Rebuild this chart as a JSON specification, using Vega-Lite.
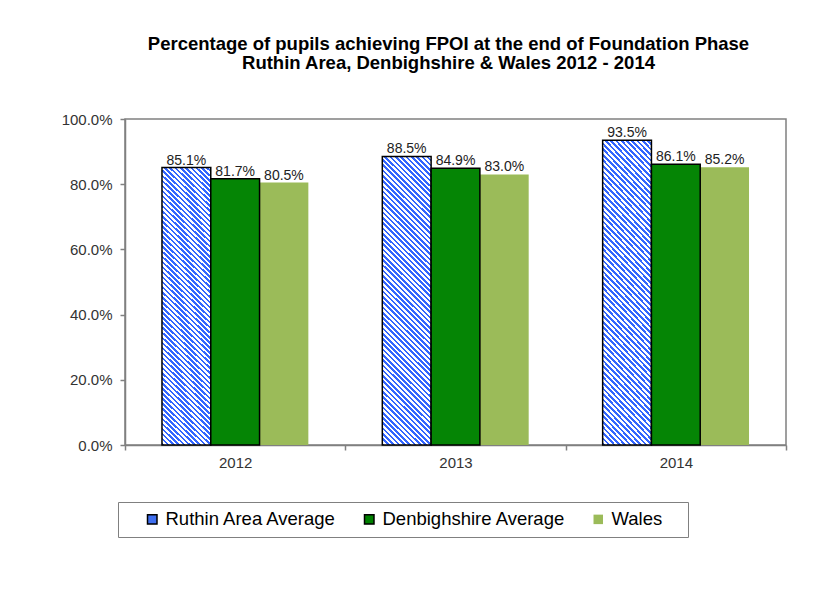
{
  "$schema": "https://vega.github.io/schema/vega-lite/v6.json",
  "width": 661,
  "height": 326,
  "autosize": {"type": "none"},
  "padding": {"left": 125, "top": 119, "right": 50, "bottom": 168},
  "background": "white",
  "config": {
    "font": "Liberation Sans",
    "view": {"stroke": "#808080", "strokeWidth": 1.5}
  },
  "title": {
    "text": ["Percentage of pupils achieving FPOI at the end of  Foundation Phase", "Ruthin Area, Denbighshire & Wales 2012 - 2014"],
    "font": "Liberation Sans",
    "fontSize": 18.5,
    "fontWeight": "bold",
    "color": "#000000",
    "lineHeight": 19,
    "anchor": "middle",
    "frame": "group",
    "dx": -7,
    "offset": 40
  },
  "data": {
    "values": [
      {"year": "2012", "series": "Ruthin Area Average", "value": 0.851},
      {"year": "2012", "series": "Denbighshire Average", "value": 0.817},
      {"year": "2012", "series": "Wales", "value": 0.805},
      {"year": "2013", "series": "Ruthin Area Average", "value": 0.885},
      {"year": "2013", "series": "Denbighshire Average", "value": 0.849},
      {"year": "2013", "series": "Wales", "value": 0.830},
      {"year": "2014", "series": "Ruthin Area Average", "value": 0.935},
      {"year": "2014", "series": "Denbighshire Average", "value": 0.861},
      {"year": "2014", "series": "Wales", "value": 0.852}
    ]
  },
  "encoding": {
    "x": {
      "field": "year", "type": "nominal",
      "scale": {"paddingInner": 0, "paddingOuter": 0},
      "axis": {
        "title": null, "labelAngle": 0, "tickBand": "extent",
        "labelFont": "Liberation Sans", "labelFontSize": 15, "labelColor": "#333333",
        "tickColor": "#808080", "domainColor": "#808080", "tickSize": 5, "labelPadding": 5,
        "domainWidth": 1.5, "tickWidth": 1.5
      }
    },
    "xOffset": {
      "field": "series", "type": "nominal",
      "scale": {"domain": ["Ruthin Area Average", "Denbighshire Average", "Wales"], "paddingInner": 0, "paddingOuter": 0.758}
    },
    "y": {
      "field": "value", "type": "quantitative",
      "scale": {"domain": [0, 1], "nice": false},
      "axis": {
        "title": null, "format": ".1%", "values": [0, 0.2, 0.4, 0.6, 0.8, 1], "grid": false,
        "labelFont": "Liberation Sans", "labelFontSize": 15, "labelColor": "#333333",
        "tickColor": "#808080", "domainColor": "#808080", "tickSize": 5, "labelPadding": 8,
        "domainWidth": 1.5, "tickWidth": 1.5
      }
    }
  },
  "layer": [
    {
      "mark": {"type": "bar", "strokeWidth": 0},
      "encoding": {
        "color": {
          "field": "series", "type": "nominal",
          "scale": {"domain": ["Ruthin Area Average", "Denbighshire Average", "Wales"], "range": ["#3f6ff0", "#008000", "#9bbb59"]},
          "legend": {
            "title": "\u00a0", "titleOrient": "right", "titlePadding": 18, "titleFontSize": 18,
            "orient": "none", "direction": "horizontal",
            "legendX": -7, "legendY": 383,
            "symbolType": "square", "symbolSize": 90, "symbolOpacity": 1, "symbolOffset": 17,
            "labelFont": "Liberation Sans", "labelFontSize": 18.5, "labelColor": "#000000",
            "labelOffset": 4, "columnPadding": 6, "labelLimit": 400,
            "strokeColor": "#808080", "padding": 8,
            "encode": {"symbols": {"update": {"stroke": {"signal": "datum.value === 'Wales' ? 'transparent' : 'black'"}, "strokeWidth": {"value": 1.5}}}}
          }
        }
      }
    },
    {
      "transform": [{"filter": "datum.series === 'Ruthin Area Average'"}],
      "mark": {
        "type": "bar", "stroke": "#000000", "strokeWidth": 1.5,
        "fill": {
          "gradient": "linear", "x1": 0, "y1": 1, "x2": 0.191, "y2": -0.136,
          "stops": [
{"offset":0,"color":"#3366ff"},{"offset":0.0078125,"color":"#3366ff"},{"offset":0.0078125,"color":"#ffffff"},{"offset":0.015625,"color":"#ffffff"},
{"offset":0.015625,"color":"#3366ff"},{"offset":0.0234375,"color":"#3366ff"},{"offset":0.0234375,"color":"#ffffff"},{"offset":0.03125,"color":"#ffffff"},
{"offset":0.03125,"color":"#3366ff"},{"offset":0.0390625,"color":"#3366ff"},{"offset":0.0390625,"color":"#ffffff"},{"offset":0.046875,"color":"#ffffff"},
{"offset":0.046875,"color":"#3366ff"},{"offset":0.0546875,"color":"#3366ff"},{"offset":0.0546875,"color":"#ffffff"},{"offset":0.0625,"color":"#ffffff"},
{"offset":0.0625,"color":"#3366ff"},{"offset":0.0703125,"color":"#3366ff"},{"offset":0.0703125,"color":"#ffffff"},{"offset":0.078125,"color":"#ffffff"},
{"offset":0.078125,"color":"#3366ff"},{"offset":0.0859375,"color":"#3366ff"},{"offset":0.0859375,"color":"#ffffff"},{"offset":0.09375,"color":"#ffffff"},
{"offset":0.09375,"color":"#3366ff"},{"offset":0.1015625,"color":"#3366ff"},{"offset":0.1015625,"color":"#ffffff"},{"offset":0.109375,"color":"#ffffff"},
{"offset":0.109375,"color":"#3366ff"},{"offset":0.1171875,"color":"#3366ff"},{"offset":0.1171875,"color":"#ffffff"},{"offset":0.125,"color":"#ffffff"},
{"offset":0.125,"color":"#3366ff"},{"offset":0.1328125,"color":"#3366ff"},{"offset":0.1328125,"color":"#ffffff"},{"offset":0.140625,"color":"#ffffff"},
{"offset":0.140625,"color":"#3366ff"},{"offset":0.1484375,"color":"#3366ff"},{"offset":0.1484375,"color":"#ffffff"},{"offset":0.15625,"color":"#ffffff"},
{"offset":0.15625,"color":"#3366ff"},{"offset":0.1640625,"color":"#3366ff"},{"offset":0.1640625,"color":"#ffffff"},{"offset":0.171875,"color":"#ffffff"},
{"offset":0.171875,"color":"#3366ff"},{"offset":0.1796875,"color":"#3366ff"},{"offset":0.1796875,"color":"#ffffff"},{"offset":0.1875,"color":"#ffffff"},
{"offset":0.1875,"color":"#3366ff"},{"offset":0.1953125,"color":"#3366ff"},{"offset":0.1953125,"color":"#ffffff"},{"offset":0.203125,"color":"#ffffff"},
{"offset":0.203125,"color":"#3366ff"},{"offset":0.2109375,"color":"#3366ff"},{"offset":0.2109375,"color":"#ffffff"},{"offset":0.21875,"color":"#ffffff"},
{"offset":0.21875,"color":"#3366ff"},{"offset":0.2265625,"color":"#3366ff"},{"offset":0.2265625,"color":"#ffffff"},{"offset":0.234375,"color":"#ffffff"},
{"offset":0.234375,"color":"#3366ff"},{"offset":0.2421875,"color":"#3366ff"},{"offset":0.2421875,"color":"#ffffff"},{"offset":0.25,"color":"#ffffff"},
{"offset":0.25,"color":"#3366ff"},{"offset":0.2578125,"color":"#3366ff"},{"offset":0.2578125,"color":"#ffffff"},{"offset":0.265625,"color":"#ffffff"},
{"offset":0.265625,"color":"#3366ff"},{"offset":0.2734375,"color":"#3366ff"},{"offset":0.2734375,"color":"#ffffff"},{"offset":0.28125,"color":"#ffffff"},
{"offset":0.28125,"color":"#3366ff"},{"offset":0.2890625,"color":"#3366ff"},{"offset":0.2890625,"color":"#ffffff"},{"offset":0.296875,"color":"#ffffff"},
{"offset":0.296875,"color":"#3366ff"},{"offset":0.3046875,"color":"#3366ff"},{"offset":0.3046875,"color":"#ffffff"},{"offset":0.3125,"color":"#ffffff"},
{"offset":0.3125,"color":"#3366ff"},{"offset":0.3203125,"color":"#3366ff"},{"offset":0.3203125,"color":"#ffffff"},{"offset":0.328125,"color":"#ffffff"},
{"offset":0.328125,"color":"#3366ff"},{"offset":0.3359375,"color":"#3366ff"},{"offset":0.3359375,"color":"#ffffff"},{"offset":0.34375,"color":"#ffffff"},
{"offset":0.34375,"color":"#3366ff"},{"offset":0.3515625,"color":"#3366ff"},{"offset":0.3515625,"color":"#ffffff"},{"offset":0.359375,"color":"#ffffff"},
{"offset":0.359375,"color":"#3366ff"},{"offset":0.3671875,"color":"#3366ff"},{"offset":0.3671875,"color":"#ffffff"},{"offset":0.375,"color":"#ffffff"},
{"offset":0.375,"color":"#3366ff"},{"offset":0.3828125,"color":"#3366ff"},{"offset":0.3828125,"color":"#ffffff"},{"offset":0.390625,"color":"#ffffff"},
{"offset":0.390625,"color":"#3366ff"},{"offset":0.3984375,"color":"#3366ff"},{"offset":0.3984375,"color":"#ffffff"},{"offset":0.40625,"color":"#ffffff"},
{"offset":0.40625,"color":"#3366ff"},{"offset":0.4140625,"color":"#3366ff"},{"offset":0.4140625,"color":"#ffffff"},{"offset":0.421875,"color":"#ffffff"},
{"offset":0.421875,"color":"#3366ff"},{"offset":0.4296875,"color":"#3366ff"},{"offset":0.4296875,"color":"#ffffff"},{"offset":0.4375,"color":"#ffffff"},
{"offset":0.4375,"color":"#3366ff"},{"offset":0.4453125,"color":"#3366ff"},{"offset":0.4453125,"color":"#ffffff"},{"offset":0.453125,"color":"#ffffff"},
{"offset":0.453125,"color":"#3366ff"},{"offset":0.4609375,"color":"#3366ff"},{"offset":0.4609375,"color":"#ffffff"},{"offset":0.46875,"color":"#ffffff"},
{"offset":0.46875,"color":"#3366ff"},{"offset":0.4765625,"color":"#3366ff"},{"offset":0.4765625,"color":"#ffffff"},{"offset":0.484375,"color":"#ffffff"},
{"offset":0.484375,"color":"#3366ff"},{"offset":0.4921875,"color":"#3366ff"},{"offset":0.4921875,"color":"#ffffff"},{"offset":0.5,"color":"#ffffff"},
{"offset":0.5,"color":"#3366ff"},{"offset":0.5078125,"color":"#3366ff"},{"offset":0.5078125,"color":"#ffffff"},{"offset":0.515625,"color":"#ffffff"},
{"offset":0.515625,"color":"#3366ff"},{"offset":0.5234375,"color":"#3366ff"},{"offset":0.5234375,"color":"#ffffff"},{"offset":0.53125,"color":"#ffffff"},
{"offset":0.53125,"color":"#3366ff"},{"offset":0.5390625,"color":"#3366ff"},{"offset":0.5390625,"color":"#ffffff"},{"offset":0.546875,"color":"#ffffff"},
{"offset":0.546875,"color":"#3366ff"},{"offset":0.5546875,"color":"#3366ff"},{"offset":0.5546875,"color":"#ffffff"},{"offset":0.5625,"color":"#ffffff"},
{"offset":0.5625,"color":"#3366ff"},{"offset":0.5703125,"color":"#3366ff"},{"offset":0.5703125,"color":"#ffffff"},{"offset":0.578125,"color":"#ffffff"},
{"offset":0.578125,"color":"#3366ff"},{"offset":0.5859375,"color":"#3366ff"},{"offset":0.5859375,"color":"#ffffff"},{"offset":0.59375,"color":"#ffffff"},
{"offset":0.59375,"color":"#3366ff"},{"offset":0.6015625,"color":"#3366ff"},{"offset":0.6015625,"color":"#ffffff"},{"offset":0.609375,"color":"#ffffff"},
{"offset":0.609375,"color":"#3366ff"},{"offset":0.6171875,"color":"#3366ff"},{"offset":0.6171875,"color":"#ffffff"},{"offset":0.625,"color":"#ffffff"},
{"offset":0.625,"color":"#3366ff"},{"offset":0.6328125,"color":"#3366ff"},{"offset":0.6328125,"color":"#ffffff"},{"offset":0.640625,"color":"#ffffff"},
{"offset":0.640625,"color":"#3366ff"},{"offset":0.6484375,"color":"#3366ff"},{"offset":0.6484375,"color":"#ffffff"},{"offset":0.65625,"color":"#ffffff"},
{"offset":0.65625,"color":"#3366ff"},{"offset":0.6640625,"color":"#3366ff"},{"offset":0.6640625,"color":"#ffffff"},{"offset":0.671875,"color":"#ffffff"},
{"offset":0.671875,"color":"#3366ff"},{"offset":0.6796875,"color":"#3366ff"},{"offset":0.6796875,"color":"#ffffff"},{"offset":0.6875,"color":"#ffffff"},
{"offset":0.6875,"color":"#3366ff"},{"offset":0.6953125,"color":"#3366ff"},{"offset":0.6953125,"color":"#ffffff"},{"offset":0.703125,"color":"#ffffff"},
{"offset":0.703125,"color":"#3366ff"},{"offset":0.7109375,"color":"#3366ff"},{"offset":0.7109375,"color":"#ffffff"},{"offset":0.71875,"color":"#ffffff"},
{"offset":0.71875,"color":"#3366ff"},{"offset":0.7265625,"color":"#3366ff"},{"offset":0.7265625,"color":"#ffffff"},{"offset":0.734375,"color":"#ffffff"},
{"offset":0.734375,"color":"#3366ff"},{"offset":0.7421875,"color":"#3366ff"},{"offset":0.7421875,"color":"#ffffff"},{"offset":0.75,"color":"#ffffff"},
{"offset":0.75,"color":"#3366ff"},{"offset":0.7578125,"color":"#3366ff"},{"offset":0.7578125,"color":"#ffffff"},{"offset":0.765625,"color":"#ffffff"},
{"offset":0.765625,"color":"#3366ff"},{"offset":0.7734375,"color":"#3366ff"},{"offset":0.7734375,"color":"#ffffff"},{"offset":0.78125,"color":"#ffffff"},
{"offset":0.78125,"color":"#3366ff"},{"offset":0.7890625,"color":"#3366ff"},{"offset":0.7890625,"color":"#ffffff"},{"offset":0.796875,"color":"#ffffff"},
{"offset":0.796875,"color":"#3366ff"},{"offset":0.8046875,"color":"#3366ff"},{"offset":0.8046875,"color":"#ffffff"},{"offset":0.8125,"color":"#ffffff"},
{"offset":0.8125,"color":"#3366ff"},{"offset":0.8203125,"color":"#3366ff"},{"offset":0.8203125,"color":"#ffffff"},{"offset":0.828125,"color":"#ffffff"},
{"offset":0.828125,"color":"#3366ff"},{"offset":0.8359375,"color":"#3366ff"},{"offset":0.8359375,"color":"#ffffff"},{"offset":0.84375,"color":"#ffffff"},
{"offset":0.84375,"color":"#3366ff"},{"offset":0.8515625,"color":"#3366ff"},{"offset":0.8515625,"color":"#ffffff"},{"offset":0.859375,"color":"#ffffff"},
{"offset":0.859375,"color":"#3366ff"},{"offset":0.8671875,"color":"#3366ff"},{"offset":0.8671875,"color":"#ffffff"},{"offset":0.875,"color":"#ffffff"},
{"offset":0.875,"color":"#3366ff"},{"offset":0.8828125,"color":"#3366ff"},{"offset":0.8828125,"color":"#ffffff"},{"offset":0.890625,"color":"#ffffff"},
{"offset":0.890625,"color":"#3366ff"},{"offset":0.8984375,"color":"#3366ff"},{"offset":0.8984375,"color":"#ffffff"},{"offset":0.90625,"color":"#ffffff"},
{"offset":0.90625,"color":"#3366ff"},{"offset":0.9140625,"color":"#3366ff"},{"offset":0.9140625,"color":"#ffffff"},{"offset":0.921875,"color":"#ffffff"},
{"offset":0.921875,"color":"#3366ff"},{"offset":0.9296875,"color":"#3366ff"},{"offset":0.9296875,"color":"#ffffff"},{"offset":0.9375,"color":"#ffffff"},
{"offset":0.9375,"color":"#3366ff"},{"offset":0.9453125,"color":"#3366ff"},{"offset":0.9453125,"color":"#ffffff"},{"offset":0.953125,"color":"#ffffff"},
{"offset":0.953125,"color":"#3366ff"},{"offset":0.9609375,"color":"#3366ff"},{"offset":0.9609375,"color":"#ffffff"},{"offset":0.96875,"color":"#ffffff"},
{"offset":0.96875,"color":"#3366ff"},{"offset":0.9765625,"color":"#3366ff"},{"offset":0.9765625,"color":"#ffffff"},{"offset":0.984375,"color":"#ffffff"},
{"offset":0.984375,"color":"#3366ff"},{"offset":0.9921875,"color":"#3366ff"},{"offset":0.9921875,"color":"#ffffff"},{"offset":1,"color":"#ffffff"}
          ]
        }
      },
      "encoding": {}
    },
    {
      "transform": [{"filter": "datum.series === 'Denbighshire Average'"}],
      "mark": {"type": "bar", "fill": "#058505", "stroke": "#000000", "strokeWidth": 1.5},
      "encoding": {}
    },
    {
      "mark": {"type": "text", "baseline": "alphabetic", "dy": -3, "font": "Liberation Sans", "fontSize": 14, "color": "#222222"},
      "encoding": {
        "text": {"field": "value", "type": "quantitative", "format": ".1%"}
      }
    }
  ]
}
